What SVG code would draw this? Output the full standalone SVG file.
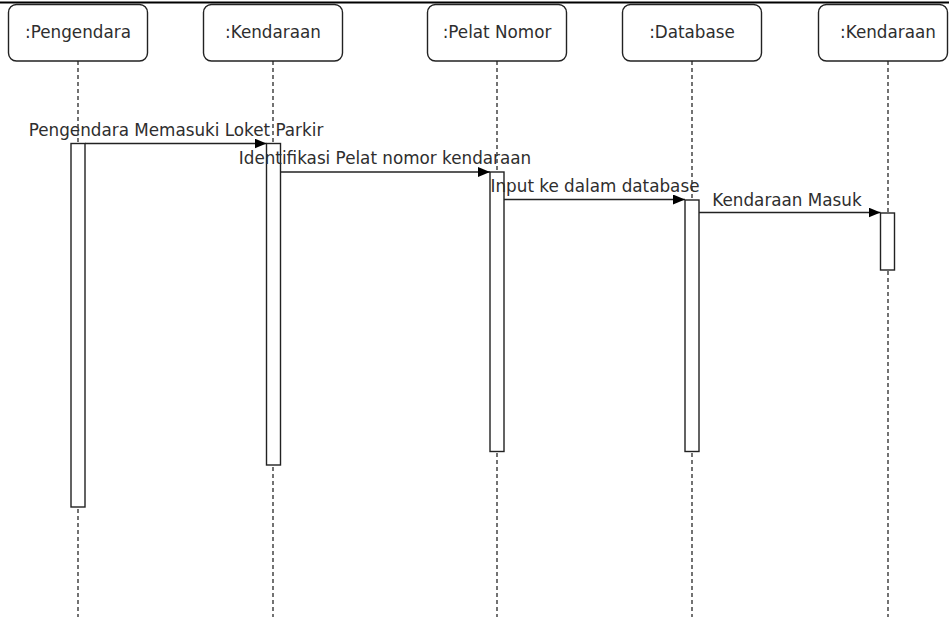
<svg xmlns="http://www.w3.org/2000/svg" width="949" height="617" viewBox="0 0 949 617">
  <defs>
    <marker id="arrow" viewBox="0 0 12 10" refX="12" refY="5" markerWidth="12" markerHeight="10" markerUnits="userSpaceOnUse" orient="auto">
      <path d="M0,0 L12,5 L0,10 Z" fill="#000"/>
    </marker>
    <style>
      .head { fill: #fff; stroke: #222; stroke-width: 1.4; }
      .life { stroke: #000; stroke-width: 1.1; stroke-dasharray: 4 3; fill: none; }
      .act { fill: #fff; stroke: #222; stroke-width: 1.4; }
      .msg { stroke: #222; stroke-width: 1.4; fill: none; marker-end: url(#arrow); }
      text { font-family: "DejaVu Sans", Verdana, sans-serif; font-size: 16.8px; fill: #2e2e2e; }
      .ctr { text-anchor: middle; }
    </style>
  </defs>

  <rect x="0" y="0" width="949" height="617" fill="#fff"/>
  <line x1="0" y1="2.5" x2="949" y2="2.5" stroke="#000" stroke-width="2"/>

  <!-- lifelines with header and activation bar -->
  <g id="pengendara">
    <line class="life" x1="78" y1="61" x2="78" y2="617"/>
    <rect class="head" x="8.5" y="4.5" width="139" height="56.5" rx="8"/>
    <text class="ctr" x="78" y="38">:Pengendara</text>
    <rect class="act" x="71" y="143.5" width="14" height="363.5"/>
  </g>

  <g id="kendaraan">
    <line class="life" x1="273" y1="61" x2="273" y2="617"/>
    <rect class="head" x="203.5" y="4.5" width="139" height="56.5" rx="8"/>
    <text class="ctr" x="273" y="38">:Kendaraan</text>
    <rect class="act" x="266.5" y="143.5" width="14" height="321.5"/>
  </g>

  <g id="pelat-nomor">
    <line class="life" x1="497" y1="61" x2="497" y2="617"/>
    <rect class="head" x="427.5" y="4.5" width="139" height="56.5" rx="8"/>
    <text class="ctr" x="497" y="38">:Pelat Nomor</text>
    <rect class="act" x="490" y="172" width="14" height="279.5"/>
  </g>

  <g id="database">
    <line class="life" x1="692" y1="61" x2="692" y2="617"/>
    <rect class="head" x="622.5" y="4.5" width="139" height="56.5" rx="8"/>
    <text class="ctr" x="692" y="38">:Database</text>
    <rect class="act" x="685" y="200" width="14" height="251.5"/>
  </g>

  <g id="kendaraan-2">
    <line class="life" x1="888" y1="61" x2="888" y2="617"/>
    <rect class="head" x="818.5" y="4.5" width="129" height="56.5" rx="8"/>
    <text class="ctr" x="888" y="38">:Kendaraan</text>
    <rect class="act" x="880.5" y="213" width="14" height="57"/>
  </g>

  <!-- messages -->
  <g id="connectors">
    <line class="msg" x1="85" y1="143.5" x2="266.5" y2="143.5"/>
    <text class="ctr" x="176" y="136">Pengendara Memasuki Loket Parkir</text>

    <line class="msg" x1="280.5" y1="172" x2="490" y2="172"/>
    <text class="ctr" x="385" y="164">Identifikasi Pelat nomor kendaraan</text>

    <line class="msg" x1="504" y1="199.5" x2="685" y2="199.5"/>
    <text class="ctr" x="595" y="192">Input ke dalam database</text>

    <line class="msg" x1="699" y1="212.5" x2="880.5" y2="212.5"/>
    <text class="ctr" x="787" y="206">Kendaraan Masuk</text>
  </g>
</svg>
